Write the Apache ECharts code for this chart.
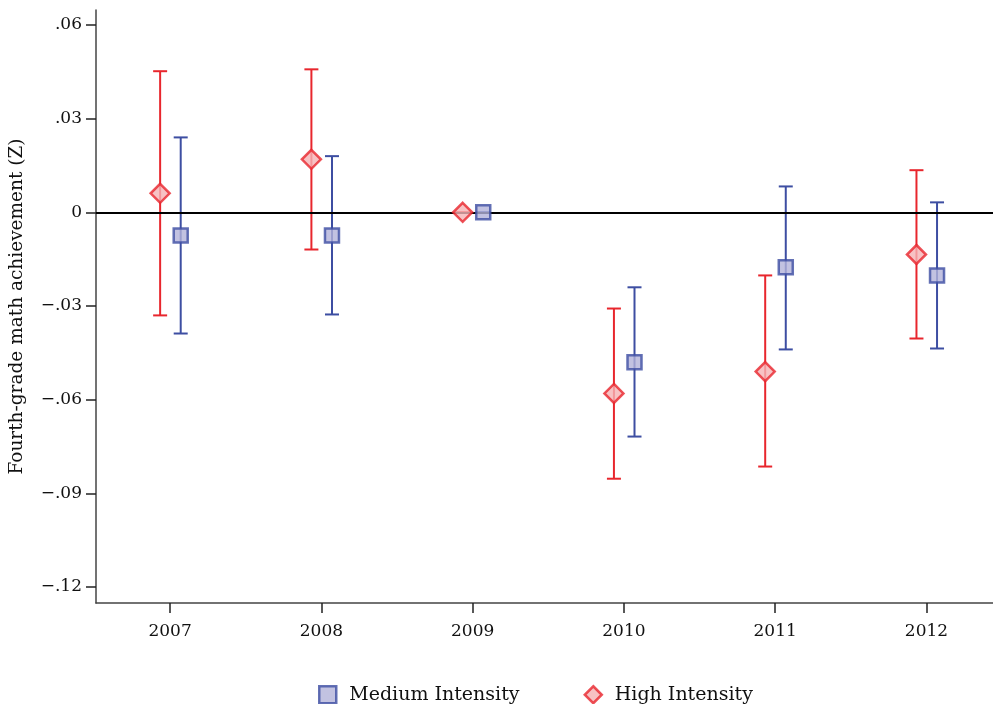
<!DOCTYPE html>
<html>
<head>
<meta charset="utf-8">
<script src="https://cdn.jsdelivr.net/npm/echarts@6/dist/echarts.min.js"></script>
<style>
  html, body { margin: 0; padding: 0; background: #fff; }
  #chart { width: 993px; height: 704px; }
</style>
</head>
<body>
<div id="chart"></div>
<script>
// survey years and the estimated effects (Z) with 95% intervals
const years = [2007, 2008, 2009, 2010, 2011, 2012];
const yTicks = [-0.12, -0.09, -0.06, -0.03, 0, 0.03, 0.06];

const mediumEst = [-0.0074, -0.0074, 0, -0.048, -0.0176, -0.0202];
const mediumLow = [-0.0388, -0.0327, 0, -0.0718, -0.0439, -0.0436];
const mediumHigh = [0.024, 0.018, 0, -0.024, 0.0083, 0.0032];

const highEst = [0.0061, 0.017, 0, -0.058, -0.051, -0.0135];
const highLow = [-0.033, -0.0119, 0, -0.0853, -0.0814, -0.0404];
const highHigh = [0.0452, 0.0458, 0, -0.0308, -0.0202, 0.0135];

const FONT = "DejaVu Serif";
const BLUE = "#3d4ea2";
const RED = "#e8262d";

// small horizontal dodge so the two groups don't overlap
const dodge = { medium: 0.07, high: -0.066 };

function points(est, shift) {
  return years.map((y, i) => [y + shift, est[i]]);
}
function bars(low, high, shift) {
  return years.map((y, i) => [y + shift, low[i], high[i]]);
}

function errorBar(color) {
  return function (params, api) {
    const x = api.value(0);
    const lo = api.coord([x, api.value(1)]);
    const hi = api.coord([x, api.value(2)]);
    const cap = 7;
    const style = { stroke: color, lineWidth: 2 };
    return {
      type: "group",
      children: [
        { type: "line", shape: { x1: lo[0], y1: lo[1], x2: hi[0], y2: hi[1] }, style: style },
        { type: "line", shape: { x1: lo[0] - cap, y1: lo[1], x2: lo[0] + cap, y2: lo[1] }, style: style },
        { type: "line", shape: { x1: hi[0] - cap, y1: hi[1], x2: hi[0] + cap, y2: hi[1] }, style: style }
      ]
    };
  };
}

const chart = echarts.init(document.getElementById("chart"));

chart.setOption({
  animation: false,
  textStyle: { fontFamily: FONT },
  grid: { left: 96, right: 0, top: 10, bottom: 101, outerBoundsMode: "none" },
  legend: {
    top: 680,
    left: 313,
    itemGap: 64,
    itemWidth: 17,
    itemHeight: 17,
    itemStyle: { borderWidth: 2.5 },
    textStyle: { fontFamily: FONT, fontSize: 19, color: "#111", padding: [0, 0, 0, 8] },
    data: ["Medium Intensity", "High Intensity"]
  },
  xAxis: {
    type: "value",
    min: 2006.51,
    max: 2012.44,
    splitLine: { show: false },
    axisLine: { onZero: false, lineStyle: { color: "#444", width: 1.5 } },
    axisTick: { customValues: years, length: 10, lineStyle: { color: "#222", width: 1.5 } },
    axisLabel: {
      customValues: years,
      margin: 20,
      fontSize: 17,
      color: "#111",
      fontFamily: FONT,
      formatter: function (v) { return String(v); }
    }
  },
  yAxis: {
    type: "value",
    min: -0.1251,
    max: 0.0648,
    name: "Fourth-grade math achievement (Z)",
    nameLocation: "middle",
    nameGap: 69,
    nameTextStyle: { fontFamily: FONT, fontSize: 18.5, color: "#111" },
    splitLine: { show: false },
    axisLine: { show: true, onZero: false, lineStyle: { color: "#444", width: 1.5 } },
    axisTick: { show: true, customValues: yTicks, length: 10, lineStyle: { color: "#222", width: 1.5 } },
    axisLabel: {
      customValues: yTicks,
      margin: 14,
      fontSize: 17,
      color: "#111",
      fontFamily: FONT,
      formatter: function (v) {
        if (Math.abs(v) < 1e-9) return "0";
        const s = Math.abs(v).toFixed(2).replace(/^0/, "");
        return v < 0 ? "\u2212" + s : s;
      }
    }
  },
  series: [
    {
      name: "zero",
      type: "line",
      data: [],
      silent: true,
      markLine: {
        symbol: "none",
        silent: true,
        label: { show: false },
        lineStyle: { color: "#000", width: 2, type: "solid" },
        data: [{ yAxis: 0 }]
      }
    },
    {
      name: "High Intensity bars",
      type: "custom",
      renderItem: errorBar(RED),
      data: bars(highLow, highHigh, dodge.high),
      z: 2
    },
    {
      name: "Medium Intensity bars",
      type: "custom",
      renderItem: errorBar(BLUE),
      data: bars(mediumLow, mediumHigh, dodge.medium),
      z: 2
    },
    {
      name: "Medium Intensity",
      type: "scatter",
      symbol: "rect",
      symbolSize: 14,
      itemStyle: { color: "#b3b3da", borderColor: BLUE, borderWidth: 2.5 },
      data: points(mediumEst, dodge.medium),
      z: 5
    },
    {
      name: "High Intensity",
      type: "scatter",
      symbol: "diamond",
      symbolSize: 19,
      itemStyle: { color: "#f5b3b5", borderColor: RED, borderWidth: 2.5 },
      data: points(highEst, dodge.high),
      z: 5
    }
  ]
});
</script>
</body>
</html>
